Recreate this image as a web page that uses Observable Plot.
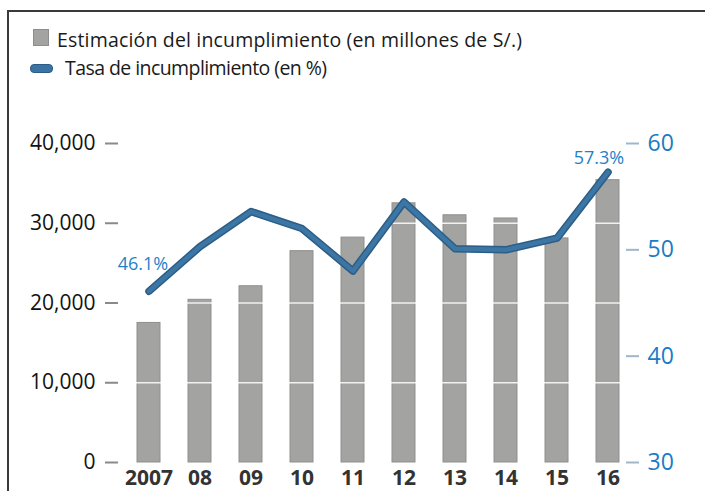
<!DOCTYPE html>
<html>
<head>
<meta charset="utf-8">
<script src="https://cdn.jsdelivr.net/npm/d3@7"></script>
<script src="https://cdn.jsdelivr.net/npm/@observablehq/plot@0.6"></script>
<style>
  html, body { margin: 0; padding: 0; background: #fff; width: 705px; height: 491px; overflow: hidden; position: relative; }
  .frame { position: absolute; left: 7px; top: 10px; right: -5px; bottom: -5px; border-left: 2px solid #3a3a3a; border-top: 2px solid #3a3a3a; }
  .leg { position: absolute; font-family: "Open Sans", sans-serif; font-size: 19.5px; color: #1a1a1a; white-space: nowrap; line-height: 1; }
  .sw1 { position: absolute; left: 33px; top: 29px; width: 16px; height: 17px; background: #a3a3a1; border: 1px solid #8d8d8b; box-sizing: border-box; }
  .sw2 { position: absolute; left: 30px; top: 64px; width: 21px; height: 7px; background: #3b74a3; border: 1px solid #2c5c85; border-radius: 4px; }
  #chart { position: absolute; left: 0; top: 100px; }
</style>
</head>
<body>
<div class="frame"></div>
<div class="sw1"></div>
<div class="leg" id="leg1" data-w="465" style="left:57px; top:30px;">Estimación del incumplimiento (en millones de S/.)</div>
<div class="sw2"></div>
<div class="leg" id="leg2" data-w="262" style="left:65px; top:58px;">Tasa de incumplimiento (en %)</div>
<div id="chart"></div>
<script>
const years = ["2007", "08", "09", "10", "11", "12", "13", "14", "15", "16"];
const amounts = [17500, 20400, 22100, 26500, 28200, 32500, 31000, 30600, 28100, 35400];
const rates = [46.1, 50.3, 53.6, 52.0, 48.0, 54.5, 50.1, 50.0, 51.1, 57.3];
const leftTicks = [0, 10000, 20000, 30000, 40000];
const rightTicks = [30, 40, 50, 60];
const gridTicks = [10000, 20000, 30000];

const rateMin = 30, rateMax = 60, amtMax = 40000;
const toY = r => (r - rateMin) / (rateMax - rateMin) * amtMax;
const fromY = v => Math.round(v / amtMax * (rateMax - rateMin) + rateMin);

const data = years.map((year, i) => ({year, amount: amounts[i], rate: rates[i]}));
const first = [data[0]];
const last = [data[data.length - 1]];
const pct = d => d.rate.toFixed(1) + "%";

const chart = Plot.plot({
  width: 705,
  height: 391,
  marginLeft: 118,
  marginRight: 80,
  marginTop: 43,
  marginBottom: 29,
  style: {fontFamily: "'Open Sans', sans-serif", background: "transparent", overflow: "visible"},
  x: {domain: years, range: [107, 648], padding: 0.55, label: null},
  y: {domain: [0, amtMax], label: null},
  marks: [
    Plot.barY(data, {x: "year", y: "amount", fill: "#a3a3a1", stroke: "#8f8f8d", strokeWidth: 1}),
    Plot.ruleY(gridTicks, {stroke: "#ffffff", strokeWidth: 1.5, strokeOpacity: 0.85}),
    Plot.axisY(leftTicks, {anchor: "left", label: null, tickSize: 13, tickPadding: 10, tickFormat: d3.format(","), fontSize: 21, stroke: "#8a8a8a", strokeWidth: 2, fill: "#111"}),
    Plot.axisY(rightTicks.map(toY), {anchor: "right", label: null, tickSize: 13, tickPadding: 9, tickFormat: fromY, fontSize: 23, stroke: "#9fb6cb", strokeWidth: 2, fill: "#1a7cc4"}),
    Plot.axisX(years, {label: null, tickSize: 0, tickPadding: 8, fontSize: 21, fontWeight: "bold", fill: "#333"}),
    Plot.line(data, {x: "year", y: d => toY(d.rate), stroke: "#2c5d86", strokeWidth: 7.5, strokeLinejoin: "round", strokeLinecap: "round"}),
    Plot.line(data, {x: "year", y: d => toY(d.rate), stroke: "#3c76a5", strokeWidth: 4.5, strokeLinejoin: "round", strokeLinecap: "round"}),
    Plot.text(first, {x: "year", y: d => toY(d.rate), text: pct, dx: -6, dy: -27, fill: "#1f82c8", fontSize: 18, textAnchor: "middle", lineAnchor: "middle"}),
    Plot.text(last, {x: "year", y: d => toY(d.rate), text: pct, dx: -9, dy: -14, fill: "#1f82c8", fontSize: 18, textAnchor: "middle", lineAnchor: "middle"})
  ]
});
document.getElementById("chart").appendChild(chart);

// fit legend text widths to the reference
for (const el of document.querySelectorAll(".leg")) {
  const target = +el.dataset.w;
  const w = el.getBoundingClientRect().width;
  const n = el.textContent.length - 1;
  if (n > 0) el.style.letterSpacing = ((target - w) / n).toFixed(2) + "px";
}
</script>
</body>
</html>
